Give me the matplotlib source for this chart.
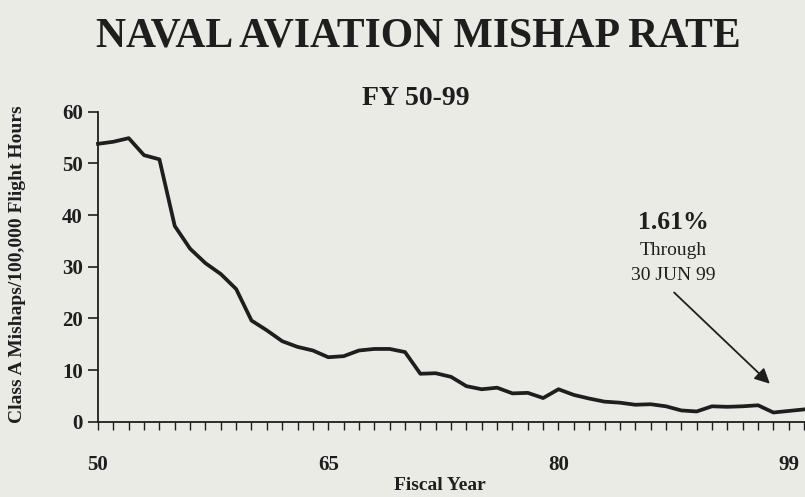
import numpy as np
from matplotlib import pyplot as plt

# fiscal years and Class A mishap rate (per 100,000 flight hours)
years = list(range(50, 97))
rate = [53.8, 54.2, 54.9, 51.6, 50.8, 37.9, 33.5, 30.7, 28.6, 25.7,
        19.6, 17.7, 15.6, 14.5, 13.8, 12.5, 12.7, 13.8, 14.1, 14.1,
        13.5, 9.3, 9.4, 8.7, 6.9, 6.3, 6.6, 5.5, 5.6, 4.6,
        6.3, 5.2, 4.5, 3.9, 3.7, 3.3, 3.4, 3.0, 2.2, 2.0,
        3.0, 2.9, 3.0, 3.2, 1.8, 2.1, 2.4]

xtick_pos = [50, 65, 80, 95]
xtick_labels = ['50', '65', '80', '99']
ytick_vals = [0, 10, 20, 30, 40, 50, 60]

bg = '#ebebe6'
ink = '#1e1e1e'
serif = 'Liberation Serif'

fig = plt.figure(figsize=(8.05, 4.97), dpi=100, facecolor=bg)
ax = fig.add_axes([98/805, 75.2/497, 707/805, 310/497], facecolor=bg)

ax.plot(years, rate, color=ink, lw=2.7, solid_joinstyle='round', clip_on=False)

ax.set_xlim(50, 50 + 707/15.35)
ax.set_ylim(0, 60)
for s in ['top', 'right']:
    ax.spines[s].set_visible(False)
for s in ['left', 'bottom']:
    ax.spines[s].set_color(ink)
    ax.spines[s].set_linewidth(1.3)

ax.set_yticks(ytick_vals)
ax.set_yticklabels([str(v) for v in ytick_vals], fontfamily=serif,
                   fontweight='bold', fontsize=15, color=ink)
ax.tick_params(axis='y', length=7, width=1.2, color=ink, pad=4)

ax.set_xticks(years, minor=True)
ax.set_xticks(xtick_pos)
ax.set_xticklabels(xtick_labels, fontfamily=serif, fontweight='bold',
                   fontsize=15, color=ink)
ax.tick_params(axis='x', which='both', length=6, width=1.0, color=ink, pad=18)

fig.text(440/805, 0.014, 'Fiscal Year', ha='center', va='baseline',
         fontfamily=serif, fontweight='bold', fontsize=14, color=ink)
fig.text(0.022, 0.469, 'Class A Mishaps/100,000 Flight Hours', rotation=90,
         ha='center', va='center', fontfamily=serif, fontweight='bold',
         fontsize=14, color=ink)

fig.text(0.52, 0.926, 'NAVAL AVIATION MISHAP RATE', ha='center', va='center',
         fontfamily=serif, fontweight='bold', fontsize=30, color=ink)
fig.text(0.516, 0.801, 'FY 50-99', ha='center', va='center',
         fontfamily=serif, fontweight='bold', fontsize=20, color=ink)

# annotation for the current-year rate
ax.text(87.5, 38.6, '1.61%', ha='center', va='center', fontfamily=serif,
        fontweight='bold', fontsize=18.5, color=ink)
ax.text(87.5, 33.2, 'Through', ha='center', va='center', fontfamily=serif,
        fontsize=14, color=ink)
ax.text(87.5, 28.4, '30 JUN 99', ha='center', va='center', fontfamily=serif,
        fontsize=14, color=ink)
ax.annotate('', xy=(93.9, 7.0), xytext=(87.4, 25.4),
            arrowprops=dict(arrowstyle='-|>,head_length=0.9,head_width=0.45',
                            color=ink, lw=1.3))

fig.savefig('out.png', dpi=100, facecolor=bg)
